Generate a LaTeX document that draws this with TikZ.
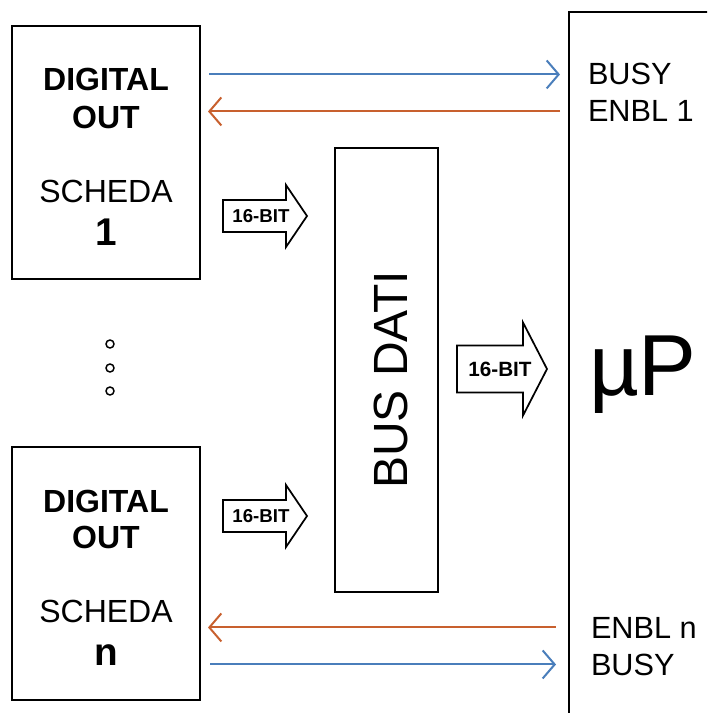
\documentclass[tikz,border=0pt]{standalone}
\usepackage{fontspec}
\setmainfont{Liberation Sans}
\usetikzlibrary{arrows.meta,positioning}
\definecolor{busyblue}{HTML}{4A7EBB}
\definecolor{enblorange}{HTML}{C8602E}

\begin{document}
\begin{tikzpicture}[
  x=0.75pt,y=-0.75pt,
  every node/.style={inner sep=0pt,outer sep=0pt},
  schedabox/.style={draw,line width=1.8pt,anchor=north west,minimum width=141pt,minimum height=189.75pt},
  titletext/.style={font=\fontsize{24}{28}\selectfont\bfseries,anchor=base},
  plaintext/.style={font=\fontsize{24}{28}\selectfont,anchor=base},
  numtext/.style={font=\fontsize{29}{34}\selectfont\bfseries,anchor=base},
  signaltext/.style={font=\fontsize{23}{27}\selectfont,anchor=base west},
  bitlabel/.style={font=\fontsize{14}{16}\selectfont\bfseries},
  bitarrow/.style={draw,line width=1.3pt,line join=miter},
  dotnode/.style={circle,draw,line width=1.1pt,minimum size=6pt},
  busyline/.style={draw=busyblue,line width=1.5pt,-{Straight Barb[length=9pt,width=21pt]}},
  enblline/.style={draw=enblorange,line width=1.5pt,-{Straight Barb[length=9pt,width=21pt]}}
]
\path[use as bounding box,clip] (0,0) rectangle (707,713);

% schede digital out
\node[schedabox] (box1) at (12,26) {};
\node[titletext] (dig1) at (106,91) {DIGITAL};
\node[titletext] (out1) at (106,128) {OUT};
\node[plaintext] (sch1) at (106,202) {SCHEDA};
\node[numtext] (num1) at (106,245) {1};

\node[schedabox] (boxn) at (12,447) {};
\node[titletext] (dign) at (106,512) {DIGITAL};
\node[titletext] (outn) at (106,548) {OUT};
\node[plaintext] (schn) at (106,622) {SCHEDA};
\node[numtext] (numn) at (106,665) {n};

\foreach \y [count=\i] in {344,368,391}
  \node[dotnode] (dot\i) at (110,\y) {};

% bus dati
\node[draw,line width=1.8pt,anchor=north west,minimum width=77.25pt,minimum height=333pt] (bus) at (335,148) {};
\node[rotate=90,anchor=base,font=\fontsize{36}{40}\selectfont] (busname) at (407,380) {BUS DATI};

% microprocessore
\node[draw,line width=1.8pt,anchor=north west,minimum width=150pt,minimum height=540pt] (upP) at (569,12) {};
\node[anchor=base west,font=\fontsize{65}{70}\selectfont] (upPname) at (589,395) {µP};
\node[signaltext] (busyA) at (588,85) {BUSY};
\node[signaltext] (enblA) at (588,122) {ENBL 1};
\node[signaltext] (enblN) at (591,638) {ENBL n};
\node[signaltext] (busyN) at (591,675) {BUSY};

% frecce 16-bit
\node[bitlabel] (bitA) at (261,216) {16-BIT};
\draw[bitarrow,shift={(bitA.center)}] (-38,-16) -- (25,-16) -- (25,-31) -- (46,0) -- (25,31) -- (25,16) -- (-38,16) -- cycle;
\node[bitlabel] (bitN) at (261,516) {16-BIT};
\draw[bitarrow,shift={(bitN.center)}] (-38,-16) -- (25,-16) -- (25,-31) -- (46,0) -- (25,31) -- (25,16) -- (-38,16) -- cycle;
\node[bitlabel,font=\fontsize{15.5}{18}\selectfont\bfseries] (bitP) at (500,369) {16-BIT};
\draw[bitarrow,shift={(bitP.center)}] (-43,-23.5) -- (23,-23.5) -- (23,-46.5) -- (47,0) -- (23,46.5) -- (23,23.5) -- (-43,23.5) -- cycle;

% segnali busy / enbl
\draw[busyline,shorten <=6.75pt,shorten >=6.75pt] (box1.east |- busyA.west) -- (upP.west |- busyA.west);
\draw[enblline,shorten <=6.75pt,shorten >=6pt] (upP.west |- enblA.west) -- (box1.east |- enblA.west);
\draw[enblline,shorten <=10pt,shorten >=6pt] (upP.west |- enblN.west) -- (boxn.east |- enblN.west);
\draw[busyline,shorten <=7.5pt,shorten >=9.75pt] (boxn.east |- busyN.west) -- (upP.west |- busyN.west);
\end{tikzpicture}
\end{document}
